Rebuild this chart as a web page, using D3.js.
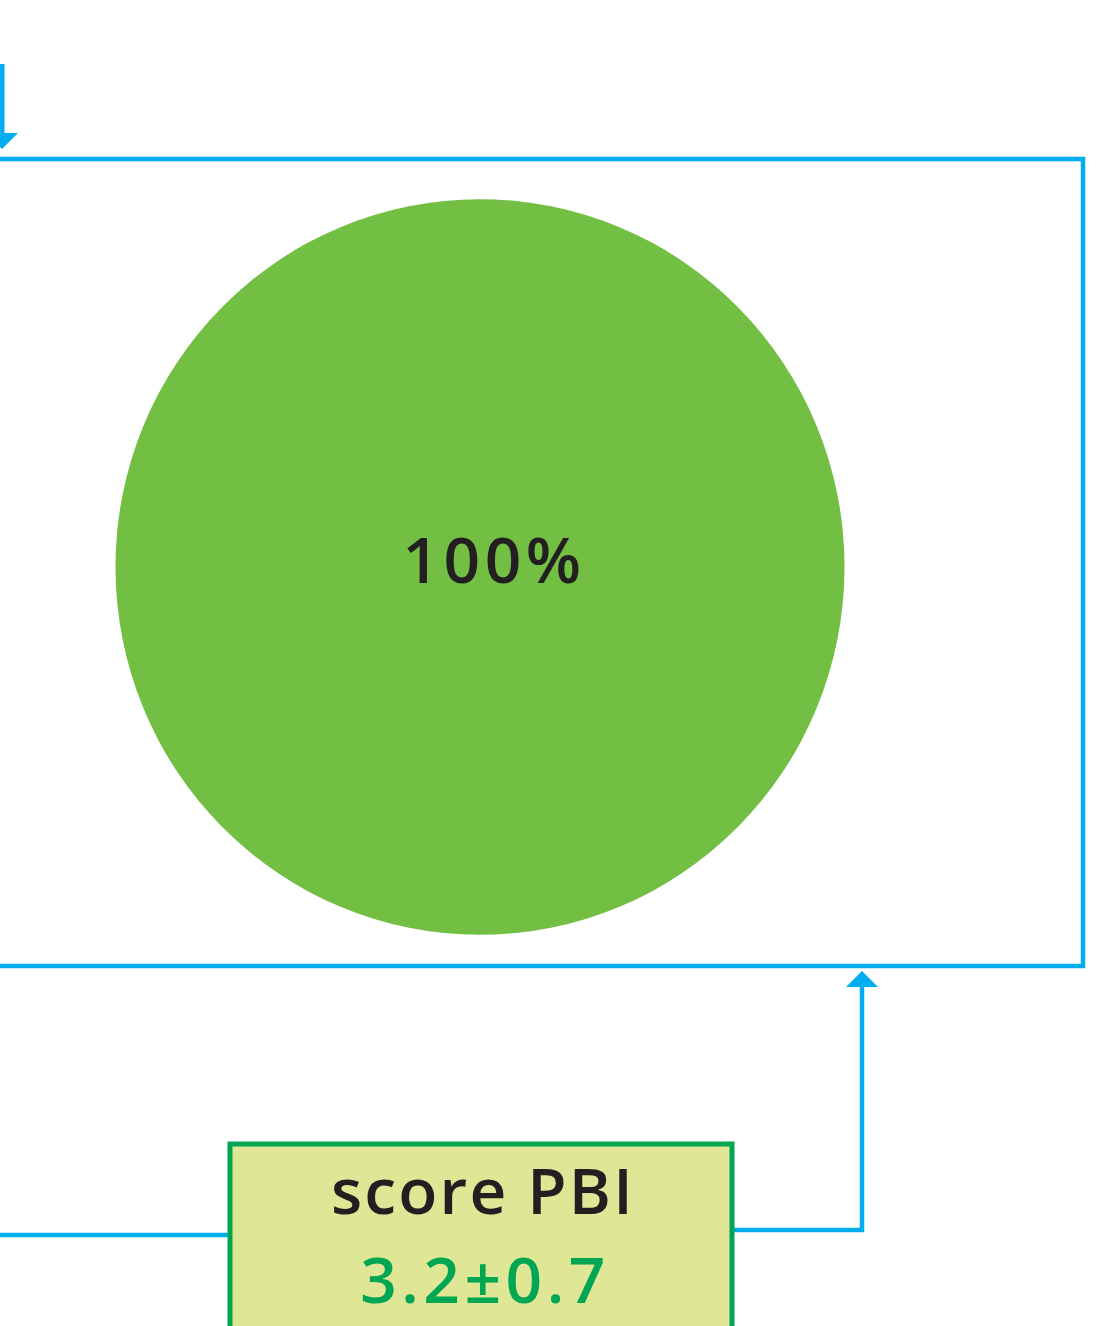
<!DOCTYPE html>
<html>
<head>
<meta charset="utf-8">
<script src="https://cdn.jsdelivr.net/npm/d3@7"></script>
<style>
  body { margin: 0; background: #fff; }
  svg { display: block; }
  text { font-family: "Open Sans", "Noto Sans", sans-serif; }
</style>
</head>
<body>
<div id="chart"></div>
<script>
// page size
const width = 1103;
const height = 1326;

// data
const sliceLabels = ["100%"];
const sliceValues = [100];
const scoreLabel = ["score PBI"];
const scoreMean = [3.2];
const scoreSd = [0.7];

const blue = "#00aeef";
const green = "#00a651";

const svg = d3.select("#chart")
  .append("svg")
  .attr("width", width)
  .attr("height", height);

// arrow heads (base sits on line end, tip 16px beyond)
const defs = svg.append("defs");
defs.append("marker")
  .attr("id", "arrow")
  .attr("viewBox", "0 0 10 10")
  .attr("refX", 0.3)
  .attr("refY", 5)
  .attr("markerUnits", "userSpaceOnUse")
  .attr("markerWidth", 32)
  .attr("markerHeight", 32)
  .attr("orient", "auto")
  .append("path")
  .attr("d", "M0,0 L5,5 L0,10 Z")
  .attr("fill", blue);

// outer frame (left side runs off page)
svg.append("path")
  .attr("d", "M-10,159 L1083,159 L1083,966 L-10,966")
  .attr("fill", "none")
  .attr("stroke", blue)
  .attr("stroke-width", 4.5);

// arrow coming down from above
svg.append("path")
  .attr("d", "M2,64 L2,134")
  .attr("stroke", blue)
  .attr("stroke-width", 5)
  .attr("marker-end", "url(#arrow)");

// pie with single slice
const pie = d3.pie().sort(null);
const arc = d3.arc().innerRadius(0).outerRadius(366);
const pieG = svg.append("g").attr("transform", "translate(480,567) scale(0.996,1.005)");
pieG.selectAll("path")
  .data(pie(sliceValues))
  .enter()
  .append("path")
  .attr("d", arc)
  .attr("fill", "#72bf44");

svg.selectAll(".slice-label")
  .data(sliceLabels)
  .enter()
  .append("text")
  .attr("class", "slice-label")
  .attr("x", 494)
  .attr("y", 583)
  .attr("text-anchor", "middle")
  .attr("font-size", 64)
  .attr("font-weight", 650)
  .attr("letter-spacing", 4.5)
  .attr("fill", "#231f20")
  .text((d) => d);

// connector lines around score box
svg.append("path")
  .attr("d", "M-10,1235 L230,1235")
  .attr("stroke", blue)
  .attr("stroke-width", 4.5)
  .attr("fill", "none");

svg.append("path")
  .attr("d", "M732,1230 L862,1230 L862,986")
  .attr("stroke", blue)
  .attr("stroke-width", 4.5)
  .attr("fill", "none")
  .attr("marker-end", "url(#arrow)");

// score box
svg.append("rect")
  .attr("x", 230)
  .attr("y", 1144)
  .attr("width", 502)
  .attr("height", 200)
  .attr("fill", "#dfe796")
  .attr("stroke", green)
  .attr("stroke-width", 5);

svg.append("text")
  .attr("x", 483)
  .attr("y", 1214)
  .attr("text-anchor", "middle")
  .attr("font-size", 64)
  .attr("font-weight", 650)
  .attr("letter-spacing", 2.2)
  .attr("fill", "#231f20")
  .text(scoreLabel[0]);

svg.append("text")
  .attr("x", 485)
  .attr("y", 1303)
  .attr("text-anchor", "middle")
  .attr("font-size", 64)
  .attr("font-weight", 650)
  .attr("letter-spacing", 4.5)
  .attr("fill", green)
  .text(`${scoreMean[0]}±${scoreSd[0]}`);
</script>
</body>
</html>
